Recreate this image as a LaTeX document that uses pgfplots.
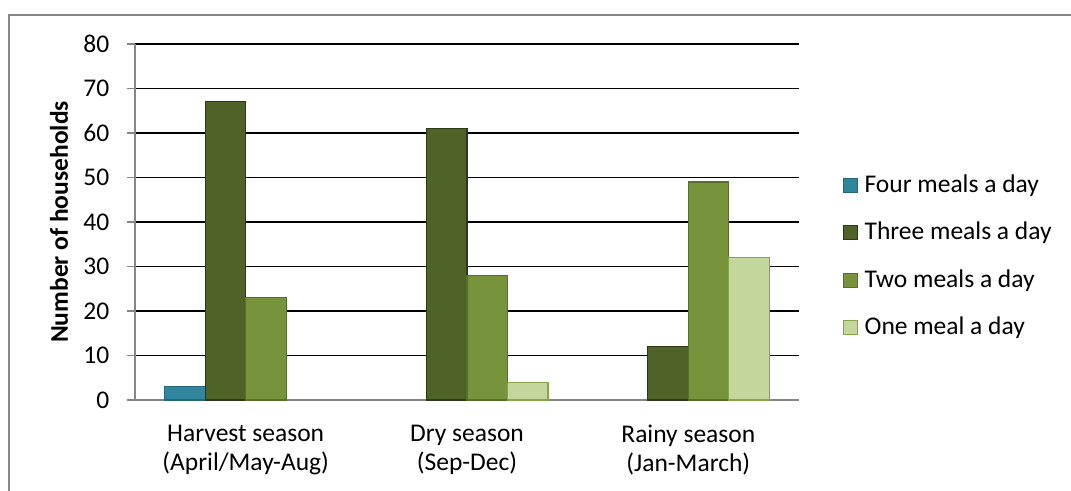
\documentclass[border=0pt]{standalone}
\usepackage{pgfplots}
\pgfplotsset{compat=1.18}
\usepackage{fontspec}
\setmainfont{Carlito}

\definecolor{fourfill}{HTML}{31859C}
\definecolor{fourdraw}{HTML}{25657A}
\definecolor{threefill}{HTML}{4F6228}
\definecolor{threedraw}{HTML}{2C3818}
\definecolor{twofill}{HTML}{77933C}
\definecolor{twodraw}{HTML}{56702C}
\definecolor{onefill}{HTML}{C3D69B}
\definecolor{onedraw}{HTML}{86A44A}
\definecolor{axgray}{HTML}{868686}

\begin{document}
\fontsize{25.5bp}{29bp}\selectfont
\begin{tikzpicture}
\useasboundingbox (0,0) rectangle (1071bp,491bp);
% outer chart frame
\draw[axgray, line width=1.5bp] (9bp,0) -- (9bp,476bp) -- (1071bp,476bp);
\begin{axis}[
  at={(135bp,91bp)}, anchor=south west,
  scale only axis,
  width=664bp, height=356bp,
  xmin=-0.5, xmax=2.5,
  ymin=0, ymax=80,
  ytick={0,10,...,80},
  xtick={0,1,2},
  xticklabels={{Harvest season\\(April/May-Aug)},{Dry season\\(Sep-Dec)},{Rainy season\\(Jan-March)}},
  xticklabel style={align=center, yshift=-8bp},
  yticklabel style={xshift=-9bp},
  axis x line*=bottom,
  axis y line*=left,
  axis line style={axgray, line width=1.5bp, -},
  tick align=outside,
  major tick length=8bp,
  xtick style={draw=none},
  ytick style={axgray, line width=1.5bp},
  ymajorgrids,
  major grid style={black, line width=1.2bp},
  /pgf/number format/assume math mode=true,
  ylabel={\bfseries Number of households},
  every axis y label/.style={at={(axis description cs:-0.1145,0.5)}, rotate=90, anchor=center},
  ybar=0pt,
  bar width=40.5bp,
  legend style={draw=none, at={(axis description cs:1.066,0.403)}, anchor=west,
    row sep=22bp, inner sep=0pt,
    nodes={inner sep=2bp, anchor=west}},
  legend cell align=left,
  legend image code/.code={%
    \draw[#1, line width=1.2bp] (0bp,-7bp) rectangle (14bp,7bp);
    \path[draw=none, fill=none] (0bp,0bp) -- (19bp,0bp);},
  clip=false,
]
\addplot[fill=fourfill, draw=fourdraw, line width=1.2bp] coordinates {(0,3)};
\addplot[fill=threefill, draw=threedraw, line width=1.2bp] coordinates {(0,67) (1,61) (2,12)};
\addplot[fill=twofill, draw=twodraw, line width=1.2bp] coordinates {(0,23) (1,28) (2,49)};
\addplot[fill=onefill, draw=onedraw, line width=1.2bp] coordinates {(1,4) (2,32)};
\legend{Four meals a day, Three meals a day, Two meals a day, One meal a day}
\end{axis}
\end{tikzpicture}
\end{document}
